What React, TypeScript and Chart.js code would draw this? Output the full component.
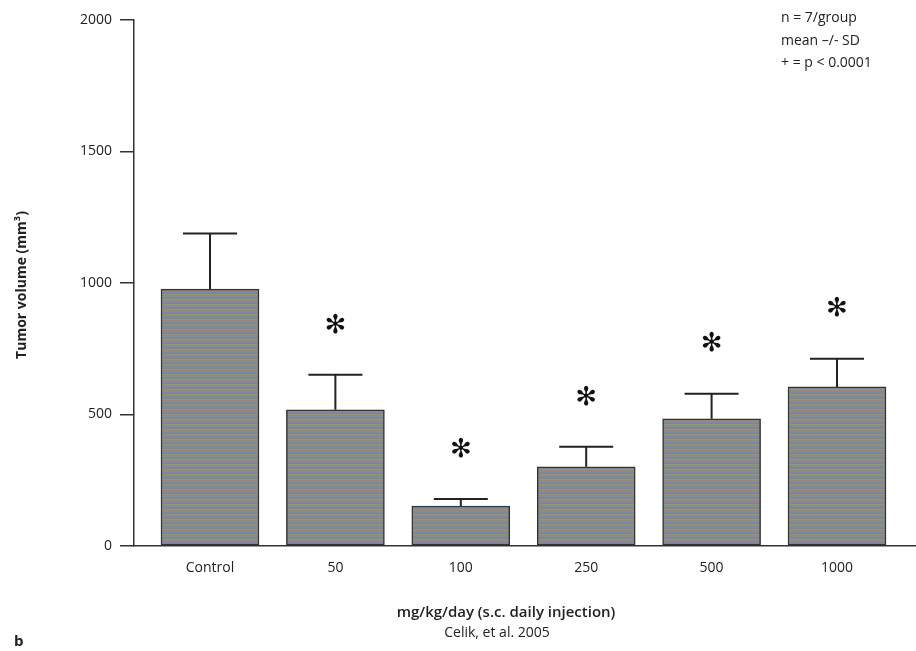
import React, { useEffect, useRef } from "react";
import { Chart, registerables } from "chart.js";

Chart.register(...registerables);

const categories = ["Control", "50", "100", "250", "500", "1000"];
const meanVolume = [977, 518, 152, 301, 484, 605];
const sdVolume = [211, 133, 27, 76, 95, 107];
const significant = [false, true, true, true, true, true];
const yTicks = [0, 500, 1000, 1500, 2000];

const FONT = "'Open Sans', 'Noto Sans', sans-serif";

const extrasPlugin = {
  id: "extras",
  afterDatasetsDraw(chart: any) {
    const { ctx, scales } = chart;
    const xs = scales.x;
    const ys = scales.y;
    ctx.save();
    ctx.strokeStyle = "#222";
    ctx.lineWidth = 2;
    for (let i = 0; i < categories.length; i++) {
      const x = xs.getPixelForValue(i);
      const yb = ys.getPixelForValue(meanVolume[i]);
      const yt = ys.getPixelForValue(meanVolume[i] + sdVolume[i]);
      ctx.beginPath();
      ctx.moveTo(x, yb);
      ctx.lineTo(x, yt);
      ctx.moveTo(x - 27, yt);
      ctx.lineTo(x + 27, yt);
      ctx.stroke();
      if (significant[i]) {
        ctx.fillStyle = "#111";
        ctx.font = "26px 'DejaVu Sans'";
        ctx.textAlign = "center";
        ctx.textBaseline = "middle";
        ctx.fillText("✻", x, yt - 49);
      }
    }
    ctx.fillStyle = "#222";
    // y title
    ctx.save();
    ctx.translate(22, 285);
    ctx.rotate(-Math.PI / 2);
    ctx.font = `bold 14px ${FONT}`;
    ctx.textAlign = "center";
    ctx.textBaseline = "middle";
    ctx.fillText("Tumor volume (mm³)", 0, 0);
    ctx.restore();
    // x title
    ctx.textAlign = "center";
    ctx.textBaseline = "middle";
    ctx.font = `600 15px ${FONT}`;
    ctx.fillText("mg/kg/day (s.c. daily injection)", 506, 613);
    ctx.font = `14px ${FONT}`;
    ctx.fillText("Celik, et al. 2005", 497, 633);
    // panel letter
    ctx.textAlign = "left";
    ctx.font = `bold 15px ${FONT}`;
    ctx.fillText("b", 14, 642);
    // note
    ctx.font = `14px ${FONT}`;
    ctx.fillText("n = 7/group", 781, 18);
    ctx.fillText("mean –/- SD", 781, 41);
    ctx.fillText("+ = p < 0.0001", 781, 63);
    ctx.restore();
  },
};

export default function App() {
  const ref = useRef<HTMLCanvasElement>(null);
  useEffect(() => {
    const canvas = ref.current;
    if (!canvas) return;
    const pc = document.createElement("canvas");
    pc.width = 2;
    pc.height = 5;
    const pctx = pc.getContext("2d")!;
    const stripes = ["#a0846c", "#8e8a86", "#6e8ea8", "#8c7ca2", "#7f9e80"];
    stripes.forEach((c, i) => {
      pctx.fillStyle = c;
      pctx.fillRect(0, i, 2, 1);
    });
    const ctx = canvas.getContext("2d")!;
    const pattern = ctx.createPattern(pc, "repeat");

    const chart = new Chart(canvas, {
      type: "bar",
      data: {
        datasets: [
          {
            data: meanVolume.map((v, i) => ({ x: i, y: v })),
            backgroundColor: pattern as any,
            borderColor: "#333",
            borderWidth: 1.5,
            borderSkipped: false,
            barThickness: 98,
          },
        ],
      },
      options: {
        responsive: false,
        animation: false,
        layout: { padding: { top: 20, left: 0, right: 0, bottom: 0 } },
        plugins: {
          legend: { display: false },
          tooltip: { enabled: false },
        },
        scales: {
          x: {
            type: "linear",
            offset: false,
            min: -0.606,
            max: 5.63,
            afterBuildTicks: (scale: any) => {
              scale.ticks = categories.map((_, i) => ({ value: i }));
            },
            afterFit: (scale: any) => {
              scale.height = 105;
            },
            grid: { display: false, drawTicks: false, offset: false },
            border: { display: true, color: "#333", width: 1.5 },
            ticks: {
              autoSkip: false,
              maxRotation: 0,
              padding: 14,
              color: "#222",
              font: { family: FONT, size: 14 },
              callback: (v: any) => categories[v as number] ?? "",
            },
          },
          y: {
            min: 0,
            max: 2000,
            afterBuildTicks: (scale: any) => {
              scale.ticks = yTicks.map((v) => ({ value: v }));
            },
            afterFit: (scale: any) => {
              scale.width = 134;
            },
            grid: {
              display: true,
              drawOnChartArea: false,
              drawTicks: true,
              tickLength: 14,
              color: "#333",
              lineWidth: 1.5,
            },
            border: { display: true, color: "#333", width: 1.5 },
            ticks: {
              padding: 8,
              color: "#222",
              font: { family: FONT, size: 14 },
              callback: (v: any) => String(v),
            },
          },
        },
      },
      plugins: [extrasPlugin],
    });
    return () => chart.destroy();
  }, []);
  return (
    <div style={{ position: "absolute", left: 0, top: 0, width: 916, height: 651, background: "#fff" }}>
      <canvas ref={ref} width={916} height={651} style={{ display: "block" }} />
    </div>
  );
}
